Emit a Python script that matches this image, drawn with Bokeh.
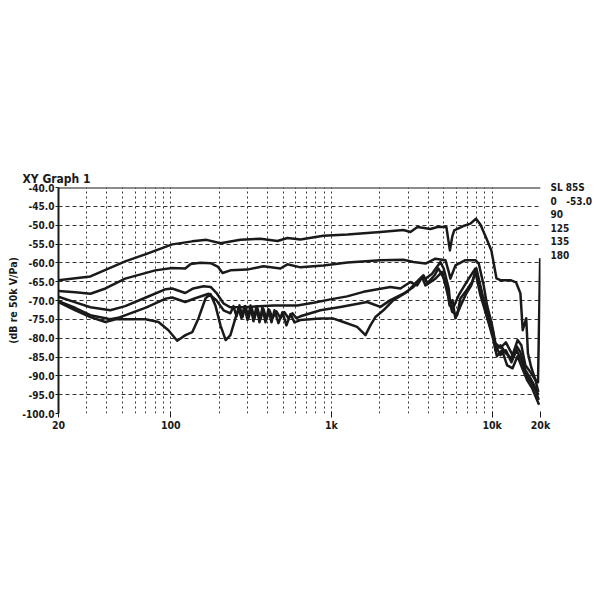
from bokeh.plotting import figure
from bokeh.models import Range1d, FixedTicker, PrintfTickFormatter, Span, LinearAxis
from bokeh.embed import file_html
from bokeh.resources import INLINE

# ---------------- data ----------------
freq_0 = [20, 31.6, 52, 70, 102, 136, 167, 204, 271, 361, 461, 532, 641, 891, 1258, 2017, 2800, 3099, 3430, 4130,
          4570, 5190, 5460, 5650, 5810, 6560, 7325, 7940, 8453, 9190, 9890, 10640, 11260, 13000, 14100, 15000, 15500,
          16300, 16700, 17500, 18600, 19300, 19900]
db_0 = [-64.6, -63.6, -59.6, -57.7, -55.1, -54.3, -53.9, -54.8, -53.9, -53.6, -54.2, -53.4, -53.8, -52.8, -52.5, -51.8,
        -51.3, -51.8, -50.5, -51.0, -50.5, -50.5, -56.7, -53.0, -51.4, -50.3, -49.6, -48.3, -49.8, -53.4, -56.7, -64.1,
        -64.6, -64.6, -65.2, -68.1, -77.9, -74.7, -84.0, -87.7, -91.1, -91.7, -58.8]

freq_90 = [20, 25.5, 31.6, 39.2, 52, 80, 102, 123, 133, 153, 177, 197, 210, 235, 299, 377, 481, 532, 641, 891,
           1258, 2017, 2800, 3240, 3845, 4436, 5120, 5370, 5500, 5908, 6818, 7869, 8252, 8862, 9304, 9994, 10483,
           11260, 12180, 13400, 14400, 15200, 16100, 17300, 18600, 19400]
db_90 = [-67.5, -67.8, -68.2, -66.8, -64.2, -62.0, -61.4, -61.5, -60.3, -60.0, -60.1, -61.1, -62.7, -62.0, -61.8,
         -60.9, -61.5, -60.4, -61.2, -60.7, -59.9, -59.3, -59.2, -59.8, -60.2, -58.9, -59.3, -62.4, -64.2, -60.7,
         -59.3, -59.3, -60.2, -66.0, -71.3, -76.6, -81.3, -82.6, -81.1, -84.5, -80.5, -81.9, -87.2, -89.0, -91.1, -94.3]

freq_125 = [20, 25.5, 31.6, 42, 52, 70, 93, 102, 123, 138, 160, 177, 194, 213, 235, 299, 436, 612, 773, 985,
            1252, 1581, 2017, 2328, 2686, 3099, 3414, 3670, 3845, 4230, 4768, 4995, 5370, 5500, 5700, 6194, 7148,
            7869, 8066, 8700, 9420, 10100, 10483, 11260, 12180, 13180, 14200, 15000, 16100, 17300, 18600, 19400]
db_125 = [-69.0, -70.5, -71.8, -72.6, -71.5, -69.2, -67.0, -66.8, -68.0, -66.8, -66.2, -66.4, -68.2, -70.8, -71.8,
          -71.7, -71.3, -71.3, -70.6, -69.7, -68.9, -67.7, -66.9, -66.4, -66.8, -65.1, -66.0, -63.8, -64.2, -62.9,
          -59.8, -61.5, -66.8, -71.3, -72.1, -68.6, -64.2, -61.5, -63.3, -68.6, -73.9, -77.9, -83.2, -81.9, -84.0,
          -85.3, -82.1, -83.7, -88.5, -90.6, -93.2, -95.1]

freq_135 = [20, 25.5, 31.6, 42, 47, 70, 93, 102, 123, 142, 172, 192, 213, 235, 245.5, 256.4, 267.6, 279.3, 291.6,
            304.4, 317.8, 331.8, 346.3, 361.4, 377.4, 394, 411.2, 429.3, 454.6, 481.4, 509.8, 539.8, 571.6, 605.4,
            641, 854, 1137, 1668, 2017, 2328, 2804, 3240, 3670, 3845, 4436, 4883, 5370, 5636, 6054, 6346, 6818,
            7508, 7869, 8453, 9081, 9994, 10483, 11260, 12180, 13180, 14200, 15200, 16300, 17500, 18800, 19500]
db_135 = [-70.2, -72.0, -73.9, -75.0, -74.6, -71.9, -69.5, -69.2, -70.4, -69.4, -68.2, -69.9, -72.6, -73.4, -71.5,
          -74.2, -71.3, -74.4, -71.5, -74.7, -71.8, -74.7, -72.1, -75.0, -72.3, -75.0, -72.6, -74.7, -72.9, -74.7,
          -73.1, -74.7, -73.4, -74.7, -74.2, -72.6, -71.7, -70.4, -71.7, -69.9, -68.2, -66.4, -63.8, -66.0, -64.2,
          -62.4, -69.5, -73.0, -73.9, -69.5, -67.7, -65.1, -62.4, -68.6, -73.0, -78.3, -81.9, -84.5, -83.2, -86.4,
          -83.2, -85.8, -89.8, -91.7, -94.3, -96.4]

freq_180 = [20, 25.5, 31.6, 39.2, 45.3, 69.6, 83.8, 96.7, 109.6, 123.4, 136, 148.8, 164.6, 176.6, 189.5, 203.8,
            219.5, 235, 252.6, 263.8, 275.3, 287.4, 300, 313.2, 327, 341.4, 356.3, 372, 388.4, 405.4, 423.2, 441.8,
            467.8, 495.4, 524.6, 555.6, 588.4, 641, 854, 1029, 1187, 1444, 1627, 1747, 1877, 2105, 2429, 2958, 3478,
            3740, 3956, 4380, 4632, 5193, 5430, 5660, 5908, 6346, 6916, 7420, 7980, 8577, 9220, 10190, 10700, 11520,
            12400, 13400, 14400, 15400, 16500, 17700, 18800, 19600]
db_180 = [-70.4, -72.6, -74.4, -75.7, -75.0, -75.0, -75.7, -77.9, -80.7, -79.2, -78.4, -74.7, -69.4, -68.3, -71.3,
          -76.6, -80.5, -79.2, -74.7, -72.1, -74.7, -71.5, -75.2, -71.3, -75.5, -71.5, -75.8, -71.8, -75.8, -72.3,
          -75.8, -72.6, -76.0, -73.1, -76.6, -73.6, -75.8, -75.2, -74.8, -74.8, -75.7, -77.0, -79.2, -76.6, -74.4,
          -72.6, -69.9, -67.7, -64.6, -63.3, -65.4, -63.3, -61.5, -65.4, -71.3, -69.9, -74.7, -71.5, -68.1, -66.0,
          -61.5, -67.3, -73.9, -80.5, -84.8, -83.2, -87.2, -88.0, -84.8, -88.0, -91.1, -93.2, -95.9, -97.7]

x_tick_values = [20, 100, 1000, 10000, 20000]
x_tick_labels = ["20", "100", "1k", "10k", "20k"]
x_grid_values = [30, 40, 50, 60, 70, 80, 90, 100, 200, 300, 400, 500, 600, 700, 800, 900,
                 1000, 2000, 3000, 4000, 5000, 6000, 7000, 8000, 9000, 10000]
y_tick_values = [-100, -95, -90, -85, -80, -75, -70, -65, -60, -55, -50, -45, -40]
legend_texts = ["SL 85S", "0\u00a0\u00a0\u00a0-53.0", "90", "125", "135", "180"]
legend_rows = [-40.0, -43.6, -47.2, -50.8, -54.4, -58.0]
title_text = "XY Graph 1"
y_label_text = "(dB re 50k V/Pa)"

FONT = "'DejaVu Sans Condensed', sans-serif"
INK = "#1a1a1a"

# ---------------- figure ----------------
p = figure(x_axis_type="log", x_range=Range1d(20, 20000), y_range=Range1d(-100, -40),
           frame_width=482, frame_height=226,
           min_border_left=58, min_border_right=58, min_border_top=187, min_border_bottom=185,
           output_backend="svg", toolbar_location=None, title=title_text)
p.outline_line_color = None
p.background_fill_color = "white"

p.title.align = "left"
p.title.offset = -36
p.title.standoff = 3
p.title.text_font = FONT
p.title.text_font_style = "bold"
p.title.text_font_size = "12px"
p.title.text_color = INK

# grids
p.xgrid.ticker = FixedTicker(ticks=x_grid_values)
p.xgrid.grid_line_color = "#333333"
p.xgrid.grid_line_dash = "2 3"
p.xgrid.grid_line_width = 1
p.ygrid.ticker = FixedTicker(ticks=[v for v in y_tick_values if v != -40])
p.ygrid.grid_line_color = "#333333"
p.ygrid.grid_line_dash = "4 3"
p.ygrid.grid_line_width = 1

# axes
p.xaxis.ticker = FixedTicker(ticks=x_tick_values)
p.xaxis.major_label_overrides = {v: t for v, t in zip(x_tick_values, x_tick_labels)}
p.xaxis.axis_line_color = None
p.xaxis.major_tick_line_color = INK
p.xaxis.major_tick_in = 2
p.xaxis.major_tick_out = 4
p.xaxis.minor_tick_line_color = None
p.xaxis.major_label_standoff = 1
p.xaxis.major_label_text_font = FONT
p.xaxis.major_label_text_font_style = "bold"
p.xaxis.major_label_text_font_size = "10.5px"
p.xaxis.major_label_text_color = INK

p.yaxis.ticker = FixedTicker(ticks=y_tick_values)
p.yaxis.formatter = PrintfTickFormatter(format="%.1f")
p.yaxis.axis_line_color = INK
p.yaxis.axis_line_width = 2
p.yaxis.major_tick_line_color = INK
p.yaxis.major_tick_in = 0
p.yaxis.major_tick_out = 3
p.yaxis.minor_tick_line_color = None
p.yaxis.major_label_standoff = 1
p.yaxis.major_label_text_font = FONT
p.yaxis.major_label_text_font_style = "bold"
p.yaxis.major_label_text_font_size = "10px"
p.yaxis.major_label_text_color = INK
p.yaxis.axis_label = y_label_text
p.yaxis.axis_label_standoff = 0
p.yaxis.axis_label_text_font = FONT
p.yaxis.axis_label_text_font_style = "bold"
p.yaxis.axis_label_text_font_size = "10.5px"
p.yaxis.axis_label_text_color = INK

# right-hand legend text, drawn as labels of an axis without line or ticks
legend_axis = LinearAxis(ticker=FixedTicker(ticks=legend_rows),
                         major_label_overrides={v: t for v, t in zip(legend_rows, legend_texts)},
                         axis_line_color=None, major_tick_line_color=None, minor_tick_line_color=None,
                         major_tick_in=0, major_tick_out=0,
                         major_label_standoff=10, major_label_text_font=FONT,
                         major_label_text_font_style="bold", major_label_text_font_size="10px",
                         major_label_text_color=INK)
p.add_layout(legend_axis, "right")

# top border line
p.add_layout(Span(location=-40, dimension="width", line_color=INK, line_width=2))

# curves
for fx, dy in [(freq_0, db_0), (freq_90, db_90), (freq_125, db_125), (freq_135, db_135), (freq_180, db_180)]:
    p.line(fx, dy, line_color=INK, line_width=2.5, line_join="round")

open("out.html", "w").write(file_html(p, INLINE))
